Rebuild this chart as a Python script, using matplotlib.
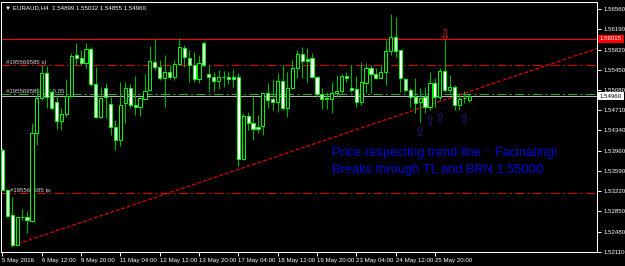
import matplotlib
matplotlib.use("Agg")
import matplotlib.pyplot as plt
from matplotlib import font_manager
import numpy as np

plt.rcParams['font.family'] = ['Liberation Sans', 'DejaVu Sans']

# ---------------- data ----------------
opens = [1.53977, 1.53243, 1.52784, 1.52233, 1.52747, 1.52747, 1.52673, 1.54289, 1.54932, 1.55391,
         1.55042, 1.54858, 1.54509, 1.54638, 1.54968, 1.55721, 1.55666, 1.55574, 1.55831, 1.55189,
         1.54583, 1.55115, 1.54822, 1.54399, 1.54161, 1.54840, 1.55115, 1.54803, 1.54766, 1.54913,
         1.55079, 1.55593, 1.55501, 1.55299, 1.55409, 1.55317, 1.55556, 1.55850, 1.55666, 1.55538,
         1.55281, 1.55942, 1.55372, 1.55317, 1.55244, 1.55317, 1.55317, 1.55317, 1.55317, 1.53812,
         1.54601, 1.54473, 1.54399, 1.54418, 1.55024, 1.54913, 1.54858, 1.55244, 1.54748, 1.55115,
         1.55483, 1.55740, 1.55648, 1.55666, 1.55317, 1.55005, 1.54932, 1.54913, 1.55024, 1.55060,
         1.55336, 1.55115, 1.55097, 1.54858, 1.55207, 1.55483, 1.55372, 1.55299, 1.55409, 1.55795,
         1.56052, 1.55813, 1.55281, 1.55079, 1.54950, 1.54858, 1.54950, 1.54766, 1.55207, 1.54950,
         1.55427, 1.55079, 1.55134, 1.54803, 1.54932, 1.54899]
highs = [1.54014, 1.53261, 1.53114, 1.52747, 1.52894, 1.52857, 1.54473, 1.55115, 1.55538, 1.55519,
         1.55079, 1.54987, 1.54748, 1.55281, 1.55758, 1.55942, 1.55813, 1.55942, 1.55868, 1.55501,
         1.55134, 1.55207, 1.54950, 1.54528, 1.55225, 1.55225, 1.55189, 1.55336, 1.54950, 1.55372,
         1.55886, 1.56015, 1.55629, 1.55721, 1.55538, 1.55629, 1.56033, 1.55905, 1.55813, 1.55776,
         1.55721, 1.55978, 1.55538, 1.55409, 1.55446, 1.55427, 1.55409, 1.55464, 1.55391, 1.54656,
         1.54675, 1.54950, 1.54620, 1.55042, 1.55207, 1.55281, 1.55391, 1.55538, 1.55409, 1.55629,
         1.55813, 1.55868, 1.55850, 1.55758, 1.55336, 1.55115, 1.55042, 1.55225, 1.55354, 1.55372,
         1.55409, 1.55538, 1.55336, 1.55593, 1.55574, 1.55538, 1.55483, 1.55538, 1.55997, 1.56474,
         1.56419, 1.55813, 1.55299, 1.55115, 1.55299, 1.55115, 1.55134, 1.55409, 1.55299, 1.55483,
         1.55997, 1.55354, 1.55170, 1.55024, 1.55060, 1.55032]
lows = [1.53240, 1.52747, 1.52196, 1.52214, 1.52692, 1.52453, 1.52655, 1.54069, 1.54895, 1.54748,
        1.54711, 1.54363, 1.54344, 1.54583, 1.54950, 1.55538, 1.55538, 1.55483, 1.55152, 1.54565,
        1.54565, 1.54565, 1.54252, 1.53977, 1.54050, 1.54473, 1.54748, 1.54620, 1.54601, 1.54913,
        1.55060, 1.55446, 1.55262, 1.54766, 1.55281, 1.55262, 1.55538, 1.55501, 1.55225, 1.55225,
        1.55207, 1.55501, 1.55042, 1.55060, 1.55097, 1.55134, 1.55189, 1.55134, 1.53683, 1.53793,
        1.54344, 1.54161, 1.54289, 1.54252, 1.54748, 1.54711, 1.54675, 1.54711, 1.54583, 1.55097,
        1.55299, 1.55299, 1.55225, 1.55299, 1.54950, 1.54730, 1.54730, 1.54656, 1.54950, 1.55024,
        1.55225, 1.55042, 1.54766, 1.54803, 1.55024, 1.55024, 1.55281, 1.55281, 1.55170, 1.55721,
        1.55684, 1.55042, 1.55042, 1.54766, 1.54656, 1.54491, 1.54656, 1.54711, 1.54766, 1.54895,
        1.55042, 1.55024, 1.54711, 1.54711, 1.54840, 1.54855]
closes = [1.53243, 1.52765, 1.52233, 1.52747, 1.52750, 1.52692, 1.54289, 1.54932, 1.55391, 1.54950,
          1.54748, 1.54509, 1.54638, 1.54968, 1.55703, 1.55666, 1.55574, 1.55831, 1.55189, 1.54583,
          1.54932, 1.54950, 1.54399, 1.54161, 1.54803, 1.55115, 1.54803, 1.54766, 1.54932, 1.55060,
          1.55611, 1.55501, 1.55299, 1.55409, 1.55317, 1.55556, 1.55868, 1.55684, 1.55538, 1.55281,
          1.55574, 1.55538, 1.55317, 1.55244, 1.55317, 1.55308, 1.55281, 1.55281, 1.53812, 1.54601,
          1.54473, 1.54363, 1.54363, 1.55024, 1.54895, 1.54858, 1.55244, 1.54748, 1.55115, 1.55483,
          1.55740, 1.55611, 1.55611, 1.55317, 1.55005, 1.54913, 1.54913, 1.55024, 1.55060, 1.55336,
          1.55299, 1.55079, 1.54858, 1.55225, 1.55483, 1.55372, 1.55299, 1.55409, 1.55795, 1.56052,
          1.55795, 1.55299, 1.55079, 1.54950, 1.54840, 1.54932, 1.54766, 1.55207, 1.54950, 1.55427,
          1.55079, 1.55134, 1.54803, 1.54913, 1.54925, 1.54960]

x_tick_bars = [0, 8, 16, 24, 32, 40, 48, 56, 64, 72, 80, 88]
x_tick_labels = ['5 May 2016', '6 May 12:00', '9 May 20:00', '11 May 04:00', '12 May 12:00',
                 '13 May 20:00', '17 May 04:00', '18 May 12:00', '19 May 20:00', '23 May 04:00',
                 '24 May 12:00', '25 May 20:00']
y_ticks = [1.52110, 1.52480, 1.52850, 1.53220, 1.53590, 1.53960, 1.54340, 1.54710,
           1.55080, 1.55450, 1.55820, 1.56190, 1.56560]

resistance = 1.56015
sl_level = 1.55530
entry_level = 1.55010
tp_level = 1.53180
bid = 1.54960
title = "\u25bc EURAUD,H4  1.54899 1.55032 1.54855 1.54960"

trend_x = [2, 95]
trend_y = [1.52220, 1.55050]

up_arrow_bars = [85, 87, 89, 94]
up_arrow_prices = [1.54307, 1.54509, 1.54564, 1.54537]
down_arrow_bars = [90]
down_arrow_prices = [1.56070]

note_lines = ["Price respecting trend line \u207b Facinating!",
              "Breaks through TL and BRN 1.55000"]

# pick a narrow face for the small axis texts if one is installed
names = {f.name for f in font_manager.fontManager.ttflist}
if 'Liberation Sans Narrow' in names:
    small_family = ['Liberation Sans Narrow', 'DejaVu Sans']
    small_size = 5.2
else:
    small_family = ['Liberation Sans', 'DejaVu Sans']
    small_size = 4.4

# ---------------- figure ----------------
W, H = 625, 266
fig = plt.figure(figsize=(W / 100, H / 100), dpi=100, facecolor='black')
ax = fig.add_axes([1 / W, (H - 252) / H, (597 - 1) / W, (252 - 2) / H])
ax.set_facecolor('black')

xmin, xmax = -0.3, 121.0
ax.set_xlim(xmin, xmax)
ax.set_ylim(1.52104, 1.56694)

o = np.array(opens); h = np.array(highs); l = np.array(lows); c = np.array(closes)
x = np.arange(len(o))

# level lines
ax.axhline(resistance, color='#FF0000', lw=0.8, zorder=1)
dd = (0, (9, 3, 2, 3))
ax.axhline(sl_level, color='#E00000', lw=0.75, ls=dd, zorder=1)
ax.axhline(tp_level, color='#E00000', lw=0.75, ls=dd, zorder=1)
ax.axhline(entry_level, color='#22B022', lw=0.75, ls=dd, zorder=1)
ax.axhline(bid, color='#B4B4B4', lw=0.75, zorder=1)

lblkw = dict(color='#D0D0D0', fontsize=small_size, family=small_family,
             va='bottom', ha='left', zorder=1.5)
ax.text(0.75, sl_level + 0.00004, '#195569585 sl', **lblkw)
ax.text(0.75, entry_level + 0.00004, '#195569585 sell 0.05', **lblkw)
ax.text(1.5, tp_level + 0.00004, '#195569585 tp', **lblkw)

# trend line
slope = (trend_y[1] - trend_y[0]) / (trend_x[1] - trend_x[0])
tx = np.array([trend_x[0], xmax])
ty = trend_y[0] + slope * (tx - trend_x[0])
ax.plot(tx, ty, color='#E00000', lw=0.9, ls=(0, (3, 1.6)), zorder=2)

# candles
ax.vlines(x, l, h, colors='#00B400', lw=0.8, zorder=3)
bull = c >= o
bottoms = np.minimum(o, c)
heights = np.maximum(np.abs(c - o), 0.00003)
ax.bar(x, heights, bottom=bottoms, width=0.64,
       color=np.where(bull, 'black', 'white'), edgecolor='#00FF00', linewidth=0.7, zorder=4)

# arrows
for bx, py in zip(up_arrow_bars, up_arrow_prices):
    ax.text(bx, py, '\u21e7', color='#1E1E90', fontsize=9, ha='center', va='center',
            family='DejaVu Sans', zorder=5)
for bx, py in zip(down_arrow_bars, down_arrow_prices):
    ax.text(bx, py, '\u21e9', color='#FF2020', fontsize=9, ha='center', va='center',
            family='DejaVu Sans', zorder=5)

# note text
ax.text(67.05, 1.53867, note_lines[0], color='#0000DD', fontsize=9.3, ha='left',
        va='baseline', zorder=6)
ax.text(67.05, 1.53560, note_lines[1], color='#0000DD', fontsize=9.3, ha='left',
        va='baseline', zorder=6)

# axes styling
for s in ax.spines.values():
    s.set_color('white')
    s.set_linewidth(0.75)
ax.yaxis.tick_right()
ax.set_yticks(y_ticks)
ax.set_yticklabels(['%.5f' % v for v in y_ticks])
ax.tick_params(axis='y', colors='white', labelsize=small_size, length=3, width=0.7, pad=1.5)
ax.set_xticks(x_tick_bars)
ax.set_xticklabels(x_tick_labels)
ax.tick_params(axis='x', colors='white', labelsize=small_size, length=3, width=0.7, pad=1.5)
for t in ax.get_xticklabels() + ax.get_yticklabels():
    t.set_family(small_family)
for t in ax.get_xticklabels():
    t.set_ha('left')

# right-side price boxes
ax.annotate('%.5f' % resistance, xy=(1.0, resistance), xycoords=('axes fraction', 'data'),
            xytext=(3, 0), textcoords='offset pixels', color='white', fontsize=small_size,
            family=small_family, va='center', ha='left',
            bbox=dict(boxstyle='square,pad=0.25', fc='#FF0000', ec='none'), annotation_clip=False)
ax.annotate('%.5f' % bid, xy=(1.0, bid), xycoords=('axes fraction', 'data'),
            xytext=(3, 0), textcoords='offset pixels', color='black', fontsize=small_size,
            family=small_family, va='center', ha='left',
            bbox=dict(boxstyle='square,pad=0.25', fc='white', ec='none'), annotation_clip=False)

fig.text(5 / W, 1 - 8 / H, title, color='white', fontsize=small_size, family=small_family,
         va='center', ha='left')

fig.savefig('out.png', dpi=100, facecolor='black')
